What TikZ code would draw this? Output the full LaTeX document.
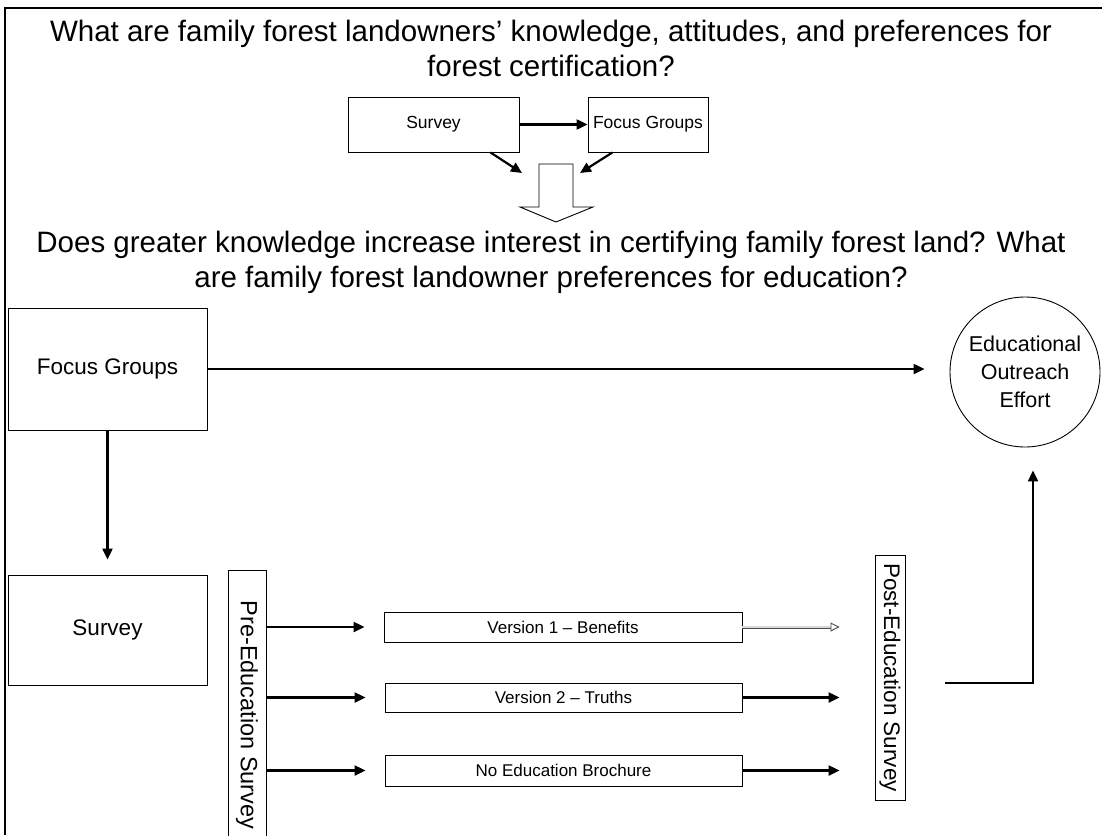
\documentclass[tikz,border=0pt]{standalone}
\usepackage{fontspec}
\setmainfont{Liberation Sans}
\usepackage{tikz}
\usetikzlibrary{arrows.meta}

\begin{document}
\begin{tikzpicture}[x=1pt,y=-1pt,
    box/.style={draw,line width=0.9pt,inner sep=2pt,align=center},
    arr/.style={line width=2.2pt,-{Triangle[length=11pt,width=10pt]}},
    dbl/.style={draw=gray!60!black,double=gray!30,double distance=1.2pt,line width=0.9pt,
        -{Triangle[open,length=9pt,width=9pt]}},
    quest/.style={align=center,font=\fontsize{29.5}{35}\selectfont},
    big/.style={font=\fontsize{22.5}{26}\selectfont},
    small/.style={font=\fontsize{17.5}{20}\selectfont},
    tiny/.style={font=\fontsize{17}{20}\selectfont}]
    \useasboundingbox (0,0) rectangle (1102,835);
    \draw[line width=2.4pt] (5,835) -- (5,8) -- (1102,8);
    % first question
    \node[quest] (q1) at (551,48)
        {What are family forest landowners’ knowledge, attitudes, and preferences for\\
        forest certification?};
    \node[box,small,minimum width=171,minimum height=55] (sv1) at (433.5,124.5) {Survey};
    \node[box,small,minimum width=120,minimum height=55] (fg1) at (648,124.5) {Focus Groups};
    \coordinate (m1) at (522,173);
    \coordinate (m2) at (580,173);
    \draw[arr] (sv1) -- (fg1);
    \draw[arr] ([xshift=-29pt]sv1.south east) -- (m1);
    \draw[arr] ([xshift=-96pt]fg1.south east) -- (m2);
    \draw[line width=0.9pt] (539,164) -- (573,164) -- (573,207) -- (593,207)
        -- (556,222) -- (520,207) -- (539,207) -- cycle;
    % second question
    \node[quest] (q2) at (551,262)
        {Does greater knowledge increase interest in certifying family forest land? What\\
        are family forest landowner preferences for education?};
    \node[box,big,minimum width=199,minimum height=122] (fg2) at (107.5,369) {Focus Groups};
    \node[draw,circle,line width=0.9pt,minimum size=150,inner sep=0pt,align=center,
        font=\fontsize{21.5}{28}\selectfont] (edu) at (1025,372) {Educational\\Outreach\\Effort};
    \node[box,big,minimum width=199,minimum height=110] (sv2) at (107.5,630) {Survey};
    \node[box,rotate=-90,minimum width=290,minimum height=38,
        font=\fontsize{23.5}{27}\selectfont] (pre) at (247,715) {Pre-Education Survey};
    \node[box,big,rotate=-90,minimum width=245,minimum height=30,inner sep=1pt] (post) at (890,677.5)
        {Post-Education Survey};
    \node[box,tiny,minimum width=358,minimum height=30] (v1) at (563,627) {Version 1 – Benefits};
    \node[box,tiny,minimum width=357,minimum height=29] (v2) at (563.5,697.5) {Version 2 – Truths};
    \node[box,tiny,minimum width=357,minimum height=31] (v3) at (563.5,770.5) {No Education Brochure};
    \coordinate (pe) at (945,683);
    \draw[arr,shorten >=25pt] (fg2) -- (fg2 -| edu.west);
    \draw[arr,shorten >=15pt] (fg2) -- (sv2);
    \foreach \v in {v1,v2,v3}
        \draw[arr,shorten >=19pt] (pre.north |- \v) -- (\v);
    \draw[dbl,shorten >=35pt] (v1) -- (v1 -| post.south);
    \draw[arr,shorten >=35pt] (v2) -- (v2 -| post.south);
    \draw[arr,shorten >=35pt] (v3) -- (v3 -| post.south);
    \draw[arr,shorten >=23pt] (pe) -| ([xshift=8pt]edu.south);
\end{tikzpicture}
\end{document}
